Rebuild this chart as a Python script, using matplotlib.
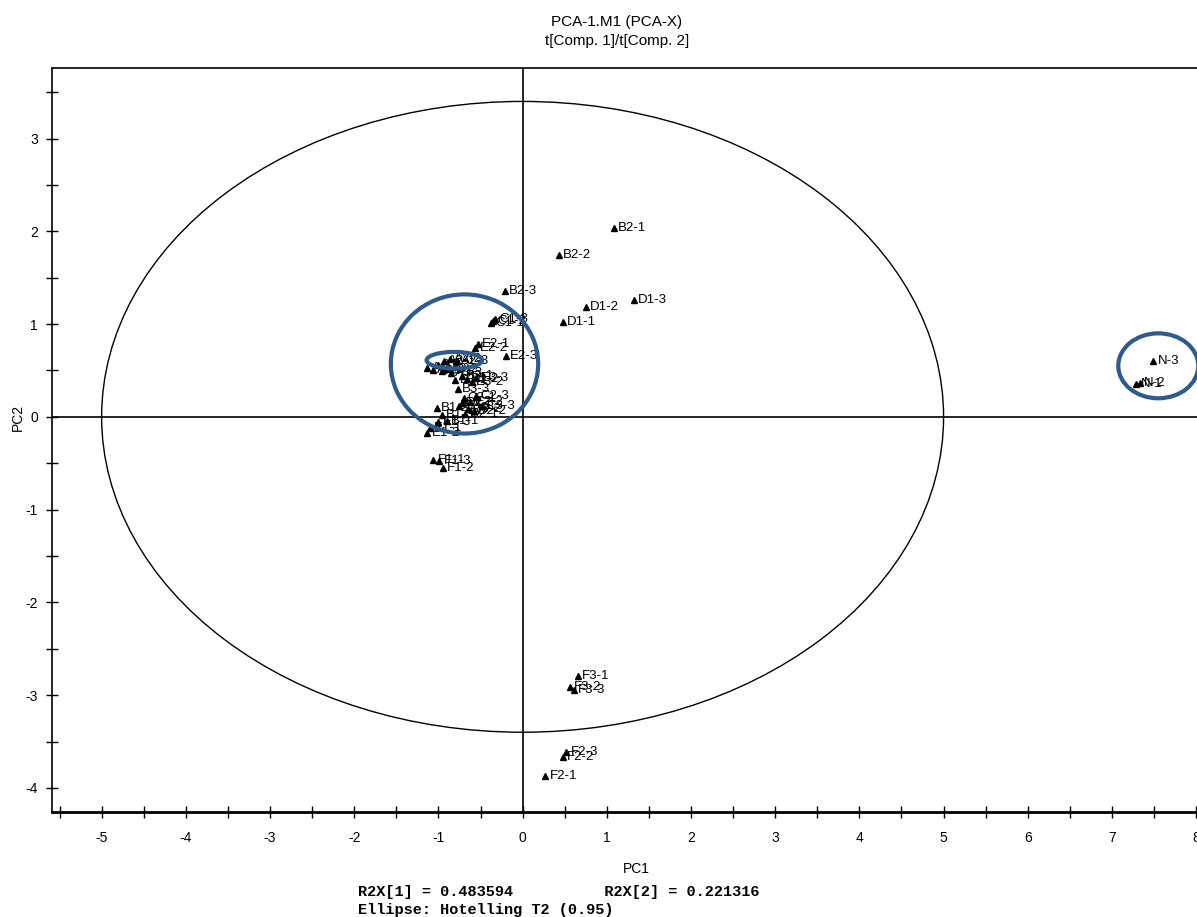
import numpy as np
import matplotlib.pyplot as plt
from matplotlib.patches import Ellipse
from matplotlib.ticker import MultipleLocator

# score values t[1], t[2] per sample
names = ['B2-1', 'B2-2', 'B2-3', 'D1-1', 'D1-2', 'D1-3',
         'C1-1', 'C1-2', 'C1-3', 'E2-1', 'E2-2', 'E2-3',
         'A1-1', 'A1-2', 'A1-3', 'A2-1', 'A2-2', 'A2-3',
         'A3-1', 'A3-2', 'A3-3', 'B3-1', 'B3-2', 'B3-3',
         'E3-1', 'E3-2', 'E3-3', 'C2-1', 'C2-2', 'C2-3',
         'C3-1', 'C3-2', 'C3-3', 'D2-1', 'D2-2', 'D2-3',
         'B1-1', 'B1-2', 'B1-3', 'E1-1', 'E1-2', 'E1-3',
         'F1-1', 'F1-2', 'F1-3', 'N-1', 'N-2', 'N-3',
         'F3-1', 'F3-2', 'F3-3', 'F2-1', 'F2-2', 'F2-3']
pc1 = [1.08, 0.43, -0.21, 0.48, 0.75, 1.32,
       -0.37, -0.35, -0.33, -0.53, -0.56, -0.20,
       -1.13, -1.07, -1.01, -0.93, -0.86, -0.78,
       -0.96, -0.90, -0.85, -0.72, -0.66, -0.77,
       -0.80, -0.60, -0.55, -0.70, -0.62, -0.55,
       -0.75, -0.65, -0.48, -0.68, -0.58, -0.72,
       -0.90, -1.02, -0.96, -1.10, -1.13, -1.00,
       -1.06, -0.95, -0.99, 7.29, 7.33, 7.49,
       0.66, 0.56, 0.61, 0.27, 0.48, 0.52]
pc2 = [2.04, 1.74, 1.36, 1.02, 1.18, 1.26,
       1.01, 1.03, 1.06, 0.78, 0.74, 0.66,
       0.53, 0.50, 0.56, 0.60, 0.62, 0.60,
       0.49, 0.52, 0.47, 0.44, 0.41, 0.30,
       0.40, 0.38, 0.42, 0.20, 0.16, 0.22,
       0.12, 0.08, 0.12, 0.03, 0.06, 0.15,
       -0.05, 0.10, 0.02, -0.12, -0.17, -0.06,
       -0.46, -0.55, -0.48, 0.35, 0.37, 0.60,
       -2.79, -2.91, -2.94, -3.87, -3.67, -3.61]

r2x = [0.483594, 0.221316]
t2_axes = (5.0, 3.4)  # Hotelling T2 (0.95) semi-axes

plt.rcParams['font.family'] = ['Liberation Sans', 'DejaVu Sans']
plt.rcParams['axes.unicode_minus'] = False

fig = plt.figure(figsize=(11.97, 9.17), dpi=100)
ax = fig.add_axes([0.0434, 0.1145, 0.977, 0.8113])
ax.set_xlim(-5.59, 8.3)
ax.set_ylim(-4.26, 3.76)

ax.axhline(0, color='black', lw=1.2, zorder=1)
ax.axvline(0, color='black', lw=1.2, zorder=1)
ax.add_patch(Ellipse((0, 0), 2 * t2_axes[0], 2 * t2_axes[1],
                     fill=False, ec='black', lw=1.0, zorder=1))

ax.plot(pc1, pc2, ls='none', marker='^', ms=4.5, color='black', zorder=3)
for n, x, y in zip(names, pc1, pc2):
    ax.annotate(n, (x, y), xytext=(3, 0), textcoords='offset points',
                ha='left', va='center', fontsize=9.5, zorder=3)

# highlighted groups
blue = '#2f5b8c'
ax.add_patch(Ellipse((-0.69, 0.57), 1.75, 1.5, fill=False, ec=blue, lw=3, zorder=4))
ax.add_patch(Ellipse((-0.81, 0.61), 0.66, 0.18, fill=False, ec=blue, lw=3, zorder=4))
ax.add_patch(Ellipse((7.55, 0.55), 0.95, 0.70, fill=False, ec=blue, lw=3, zorder=4))

ax.xaxis.set_major_locator(MultipleLocator(1))
ax.xaxis.set_minor_locator(MultipleLocator(0.5))
ax.yaxis.set_major_locator(MultipleLocator(1))
ax.yaxis.set_minor_locator(MultipleLocator(0.5))
ax.tick_params(which='both', direction='inout', length=8, width=1, labelsize=10)
ax.tick_params(axis='x', pad=10)
ax.tick_params(axis='y', pad=6)
for s in ax.spines.values():
    s.set_linewidth(1.2)
ax.spines['bottom'].set_linewidth(2)

ax.set_xlabel('PC1', fontsize=10, labelpad=12)
fig.text(18 / 1197, 1 - 417 / 917, 'PC2', rotation=90, ha='center', va='center', fontsize=10)

fig.text(617 / 1197, 1 - 22 / 917, 'PCA-1.M1 (PCA-X)', ha='center', va='center', fontsize=11)
fig.text(617 / 1197, 1 - 41 / 917, 't[Comp. 1]/t[Comp. 2]', ha='center', va='center', fontsize=11)

mono = dict(family=['Liberation Mono', 'DejaVu Sans Mono'], fontsize=11, weight='bold', ha='left', va='center')
fig.text(358 / 1197, 1 - 892 / 917,
         'R2X[1] = %.6f          R2X[2] = %.6f' % (r2x[0], r2x[1]), **mono)
fig.text(358 / 1197, 1 - 910 / 917, 'Ellipse: Hotelling T2 (0.95)', **mono)

fig.savefig('out.png', dpi=100)
